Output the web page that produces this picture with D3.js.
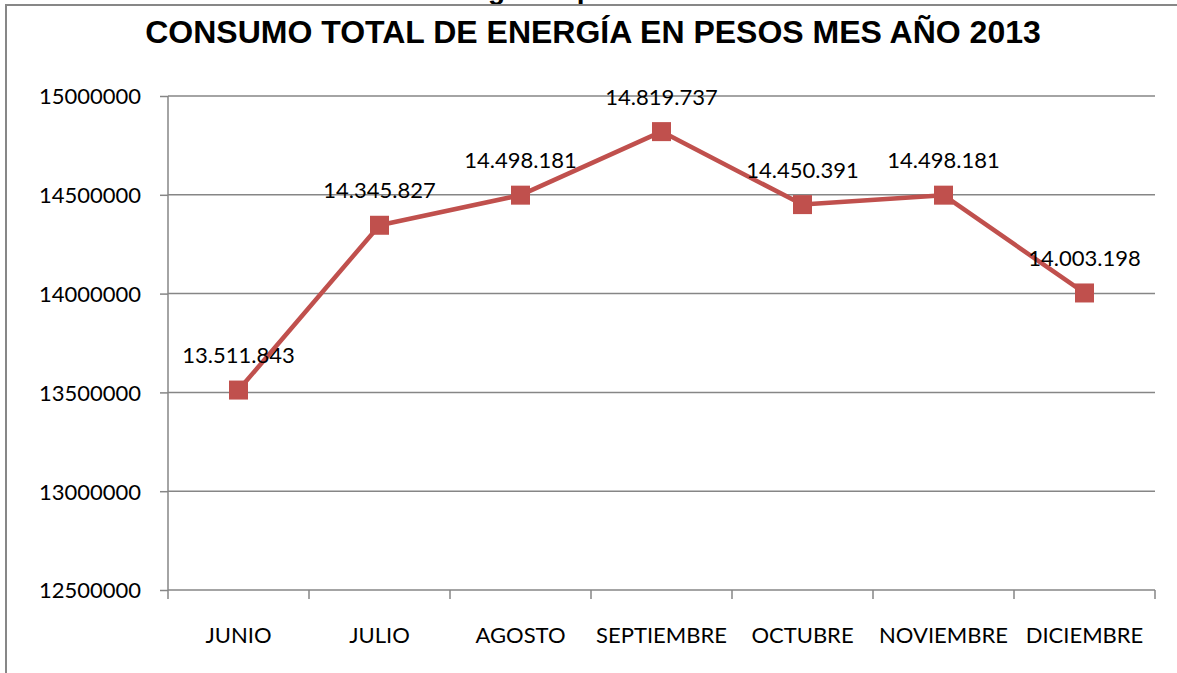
<!DOCTYPE html>
<html>
<head>
<meta charset="utf-8">
<script src="https://cdn.jsdelivr.net/npm/d3@7"></script>
<style>
  body { margin: 0; background: #fff; }
  svg { display: block; }
  .tick text, .lbl { font-family: Lato, "Open Sans", sans-serif; font-size: 22px; fill: #000; }
  .title { font-family: "Liberation Sans", Arial, sans-serif; font-weight: bold; font-size: 28px; }
</style>
</head>
<body>
<div id="chart"></div>
<script>
// data
const months = ['JUNIO', 'JULIO', 'AGOSTO', 'SEPTIEMBRE', 'OCTUBRE', 'NOVIEMBRE', 'DICIEMBRE'];
const pesos = [13511843, 14345827, 14498181, 14819737, 14450391, 14498181, 14003198];
const yTicks = [12500000, 13000000, 13500000, 14000000, 14500000, 15000000];

const W = 1177, H = 673;
const AXIS = '#868686';
const RED = '#C0504D';

const svg = d3.select('#chart').append('svg').attr('width', W).attr('height', H);

// leftover title of the chart above, only its descenders show
const prev = svg.append('text').attr('class', 'title').attr('y', -1)
  .text('Consumo total de energía en pesos');
const pre = svg.append('text').attr('class', 'title').attr('visibility', 'hidden')
  .text('Consumo total de ener');
prev.attr('x', 488 - pre.node().getComputedTextLength());
pre.remove();

// white cover + frame
svg.append('rect').attr('x', 7).attr('y', 6).attr('width', W).attr('height', H).attr('fill', '#fff');
svg.append('path').attr('d', `M6,${H} V5 H${W}`).attr('fill', 'none')
  .attr('stroke', '#878787').attr('stroke-width', 2);

svg.append('text').attr('class', 'title').attr('x', 593).attr('y', 43)
  .attr('text-anchor', 'middle').style('font-size', '32px')
  .text('CONSUMO TOTAL DE ENERGÍA EN PESOS MES AÑO 2013');

const x = d3.scaleBand().domain(months).range([168, 1155]);
const y = d3.scaleLinear().domain([12500000, 15000000]).range([590, 96]);

// gridlines
svg.append('g').selectAll('line').data(yTicks.slice(1)).join('line')
  .attr('x1', 168).attr('x2', 1155)
  .attr('y1', d => y(d)).attr('y2', d => y(d))
  .attr('stroke', AXIS).attr('stroke-width', 1.5);

// y axis
const yAxis = svg.append('g').attr('transform', 'translate(168,0)')
  .call(d3.axisLeft(y).tickValues(yTicks).tickFormat(d3.format('d')).tickSize(8).tickPadding(19));
yAxis.selectAll('.domain, .tick line').attr('stroke', AXIS).attr('stroke-width', 1.5);
yAxis.select('.domain').attr('d', 'M0,96V590');
yAxis.selectAll('.tick text').attr('dy', '0.36em');

// x axis
const xAxis = svg.append('g').attr('transform', 'translate(0,590)')
  .call(d3.axisBottom(x).tickSize(0).tickPadding(37));
xAxis.select('.domain').attr('d', 'M168,0H1155').attr('stroke', AXIS).attr('stroke-width', 1.5);
xAxis.selectAll('.tick text').attr('dy', '0.71em');
xAxis.append('g').selectAll('line').data(months.concat(['end'])).join('line')
  .attr('x1', (d, i) => 168 + i * x.step()).attr('x2', (d, i) => 168 + i * x.step())
  .attr('y1', 0).attr('y2', 9)
  .attr('stroke', AXIS).attr('stroke-width', 1.5);

// line + markers
const cx = (d, i) => x(months[i]) + x.bandwidth() / 2;
svg.append('path').datum(pesos)
  .attr('d', d3.line().x(cx).y(d => y(d)))
  .attr('fill', 'none').attr('stroke', RED).attr('stroke-width', 4.5).attr('stroke-linejoin', 'round');

svg.append('g').selectAll('rect').data(pesos).join('rect')
  .attr('x', (d, i) => cx(d, i) - 9.5).attr('y', d => y(d) - 9.5)
  .attr('width', 19).attr('height', 19).attr('fill', RED);

// value labels
const fmt = d3.formatLocale({ decimal: ',', thousands: '.', grouping: [3], currency: ['$', ''] }).format(',d');
svg.append('g').selectAll('text').data(pesos).join('text').attr('class', 'lbl')
  .attr('x', cx).attr('y', d => y(d) - 27)
  .attr('text-anchor', 'middle').text(d => fmt(d));
</script>
</body>
</html>
